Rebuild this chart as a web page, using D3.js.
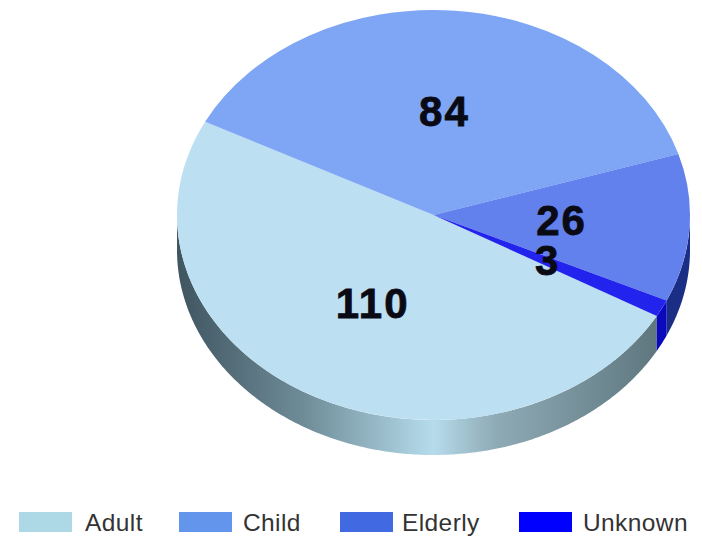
<!DOCTYPE html>
<html>
<head>
<meta charset="utf-8">
<script src="https://cdn.jsdelivr.net/npm/d3@7"></script>
<style>
  html, body { margin: 0; padding: 0; background: #fff; }
  svg { display: block; }
  text { font-family: "Liberation Sans", Arial, sans-serif; }
</style>
</head>
<body>
<div class="chart"></div>
<script>
let categories = ["Adult", "Child", "Elderly", "Unknown"]
let values = [110, 84, 26, 3]
let topColors = ["#bddff2", "#7ea6f5", "#6281ec", "#2323ee"]
let legendColors = ["#add8e6", "#6495ed", "#4169e1", "#0000ff"]

let width = 702
let height = 536
let cx = 433.5
let cy = 215
let rx = 256.5
let ry = 205
let depth = 35
let startDeg = 119.5
// arcs are drawn big and scaled down, a unit radius rounds badly near 180 degrees
let arcRadius = 1000

let svg = d3.select(".chart")
  .append("svg")
  .attr("width", width)
  .attr("height", height)

// lit side of the disc, darkest towards the edges
let defs = svg.append("defs")
let adultWall = defs.append("linearGradient")
  .attr("id", "adultWall")
  .attr("gradientUnits", "userSpaceOnUse")
  .attr("x1", cx - rx).attr("x2", cx + rx)
  .attr("y1", 0).attr("y2", 0)
adultWall.selectAll("stop")
  .data([[0, "#3f5560"], [0.25, "#6f8d99"], [0.5, "#b6dcec"], [0.62, "#8fabb6"], [0.93, "#5f7880"], [1, "#566c74"]])
  .enter()
  .append("stop")
  .attr("offset", d => d[0])
  .attr("stop-color", d => d[1])

let wallFill = ["url(#adultWall)", "#50709a", "#1a2e85", "#0a0abc"]

let startAngle = startDeg * Math.PI / 180
let pie = d3.pie()
  .sort(null)
  .startAngle(startAngle)
  .endAngle(startAngle + 2 * Math.PI)
let slices = pie(values)

let arc = d3.arc().innerRadius(0).outerRadius(arcRadius)

let xScale = d3.scaleLinear().domain([-arcRadius, arcRadius]).range([cx - rx, cx + rx])
let yScale = d3.scaleLinear().domain([-arcRadius, arcRadius]).range([cy - ry, cy + ry])

// only the part of a slice on the front half of the rim shows a wall
let wallPath = d => {
  let turn = 2 * Math.PI
  let ranges = [0, turn].map(k => [
    Math.max(d.startAngle - k, Math.PI / 2),
    Math.min(d.endAngle - k, 3 * Math.PI / 2)
  ]).filter(r => r[1] > r[0])
  if (!ranges.length) return null
  let [a0, a1] = ranges[0]
  let angles = d3.range(a0, a1, 0.01).concat([a1])
  let rim = angles.map(a => [xScale(arcRadius * Math.sin(a)), yScale(-arcRadius * Math.cos(a))])
  let under = rim.map(p => [p[0], p[1] + depth]).reverse()
  return d3.line()(rim.concat(under)) + "Z"
}

svg.selectAll(".wall")
  .data(slices)
  .enter()
  .append("path")
  .attr("class", "wall")
  .attr("d", wallPath)
  .attr("fill", (d, i) => wallFill[i])

let pieGroup = svg.append("g")
  .attr("transform", `translate(${cx},${cy}) scale(${rx / arcRadius},${ry / arcRadius})`)

pieGroup.selectAll("path")
  .data(slices)
  .enter()
  .append("path")
  .attr("d", arc)
  .attr("fill", (d, i) => topColors[i])

svg.selectAll(".value")
  .data(slices)
  .enter()
  .append("text")
  .attr("class", "value")
  .attr("x", d => xScale(arc.centroid(d)[0]))
  .attr("y", d => yScale(arc.centroid(d)[1]))
  .attr("dy", "0.31em")
  .attr("text-anchor", "middle")
  .attr("font-size", 42)
  .attr("font-weight", "bold")
  .attr("letter-spacing", 2)
  .attr("stroke", "#0a0a14")
  .attr("stroke-width", 0.8)
  .attr("fill", "#0a0a14")
  .text(d => d.value)

let legendX = d3.scaleOrdinal().domain(categories).range([19, 179, 340, 519])
let legendTextX = d3.scaleOrdinal().domain(categories).range([85, 243, 402, 583])

let legend = svg.selectAll(".legend")
  .data(categories)
  .enter()
  .append("g")
  .attr("class", "legend")

legend.append("rect")
  .attr("x", d => legendX(d))
  .attr("y", 512)
  .attr("width", 53)
  .attr("height", 20)
  .attr("fill", (d, i) => legendColors[i])

legend.append("text")
  .attr("x", d => legendTextX(d))
  .attr("y", 531)
  .attr("font-size", 24.5)
  .attr("letter-spacing", 0.4)
  .attr("fill", "#333")
  .text(d => d)
</script>
</body>
</html>
